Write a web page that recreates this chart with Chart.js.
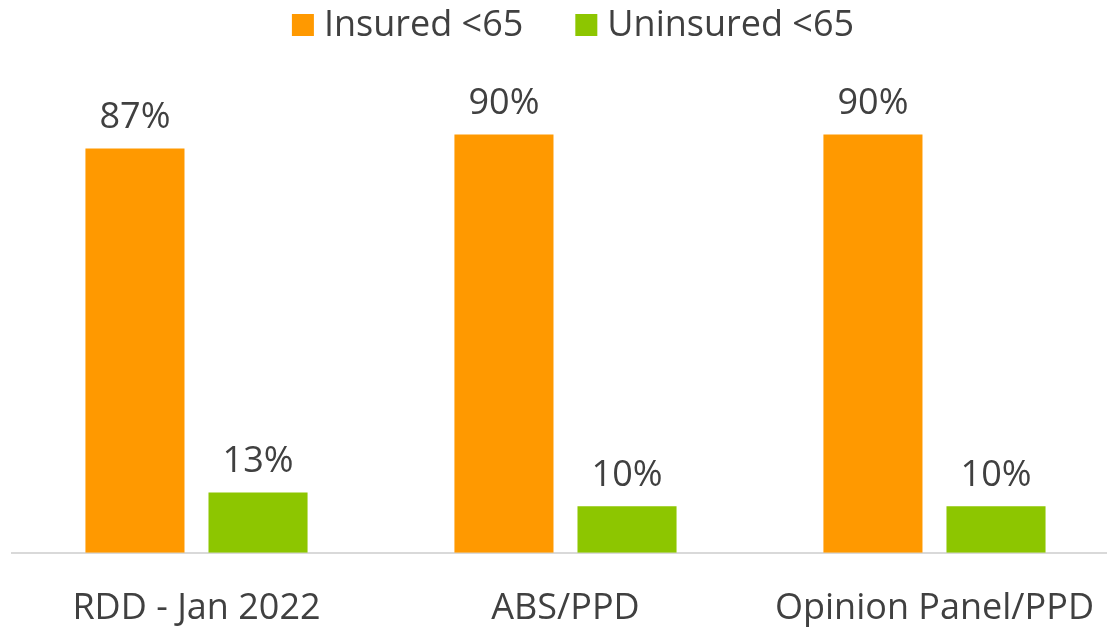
<!DOCTYPE html>
<html>
<head>
<meta charset="utf-8">
<script src="https://cdn.jsdelivr.net/npm/chart.js@4/dist/chart.umd.min.js"></script>
<style>
  html, body { margin: 0; padding: 0; background: #fff; overflow: hidden; width: 1107px; height: 627px; }
  #wrap { width: 1128px; height: 627px; position: relative; }
</style>
</head>
<body>
<div id="wrap"><canvas id="chart" width="1128" height="627"></canvas></div>
<script>
const categories = ['RDD - Jan 2022', 'ABS/PPD', 'Opinion Panel/PPD'];
const insured = [87, 90, 90];
const uninsured = [13, 10, 10];
const seriesNames = ['Insured <65', 'Uninsured <65'];

const textColor = '#404040';
const fontFamily = "'Open Sans', 'Noto Sans', sans-serif";
const fontSize = 36;

// value labels above each bar
const valueLabels = {
    id: 'valueLabels',
    afterDatasetsDraw(chart) {
        const ctx = chart.ctx;
        ctx.save();
        ctx.font = fontSize + 'px ' + fontFamily;
        ctx.fillStyle = textColor;
        ctx.textAlign = 'center';
        ctx.textBaseline = 'alphabetic';
        chart.data.datasets.forEach((ds, i) => {
            chart.getDatasetMeta(i).data.forEach((bar, j) => {
                ctx.fillText(ds.data[j] + '%', bar.x, bar.y - 20);
            });
        });
        ctx.restore();
    }
};

// legend drawn at top, boxes close to text like the original
const topLegend = {
    id: 'topLegend',
    afterDraw(chart) {
        const ctx = chart.ctx;
        ctx.save();
        ctx.font = fontSize + 'px ' + fontFamily;
        const box = 22, gap = 10, between = 52;
        const items = chart.data.datasets.map(ds => ({ text: ds.label, color: ds.backgroundColor, w: ctx.measureText(ds.label).width }));
        let total = items.reduce((s, it) => s + box + gap + it.w, 0) + between * (items.length - 1);
        let x = 573 - total / 2;
        const y = 25;
        ctx.textBaseline = 'middle';
        ctx.textAlign = 'left';
        items.forEach(it => {
            ctx.fillStyle = it.color;
            ctx.fillRect(x, y - box / 2, box, box);
            ctx.fillStyle = textColor;
            ctx.fillText(it.text, x + box + gap, y + 1);
            x += box + gap + it.w + between;
        });
        ctx.restore();
    }
};

const data = {
    labels: categories,
    datasets: [
        {
            label: seriesNames[0],
            data: insured,
            backgroundColor: '#FF9900',
            categoryPercentage: 0.667,
            barPercentage: 0.805
        },
        {
            label: seriesNames[1],
            data: uninsured,
            backgroundColor: '#8DC600',
            categoryPercentage: 0.667,
            barPercentage: 0.805
        }
    ]
};

const config = {
    type: 'bar',
    data: data,
    options: {
        responsive: false,
        animation: false,
        layout: {
            padding: { left: 12, right: 0, top: 88, bottom: -37 }
        },
        plugins: {
            legend: { display: false },
            tooltip: { enabled: false }
        },
        scales: {
            x: {
                grid: { display: false, drawTicks: false },
                border: { display: true, color: '#D9D9D9', width: 2 },
                ticks: {
                    color: textColor,
                    font: { family: fontFamily, size: fontSize },
                    padding: 34,
                    maxRotation: 0
                }
            },
            y: {
                display: false,
                min: 0,
                max: 100
            }
        }
    },
    plugins: [valueLabels, topLegend]
};

new Chart(document.getElementById('chart').getContext('2d'), config);
</script>
</body>
</html>
